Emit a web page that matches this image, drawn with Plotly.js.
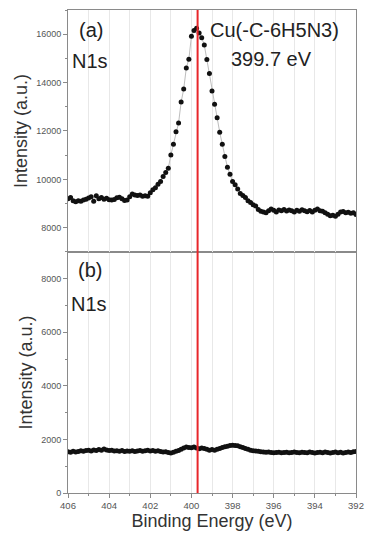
<!DOCTYPE html>
<html>
<head>
<meta charset="utf-8">
<script src="https://cdn.plot.ly/plotly-3.0.1.min.js"></script>
<style>html,body{margin:0;padding:0;background:#fff;}#chart{width:366px;height:534px;}</style>
</head>
<body>
<div id="chart"></div>
<script>
// Binding energy (eV), shared by both spectra
var bindingEnergy = [
406.000,405.875,405.750,405.625,405.500,405.375,405.250,405.125,405.000,404.875,
404.750,404.625,404.500,404.375,404.250,404.125,404.000,403.875,403.750,403.625,
403.500,403.375,403.250,403.125,403.000,402.875,402.750,402.625,402.500,402.375,
402.250,402.125,402.000,401.875,401.750,401.625,401.500,401.375,401.250,401.125,
401.000,400.875,400.750,400.625,400.500,400.375,400.250,400.125,400.000,399.875,
399.750,399.625,399.500,399.375,399.250,399.125,399.000,398.875,398.750,398.625,
398.500,398.375,398.250,398.125,398.000,397.875,397.750,397.625,397.500,397.375,
397.250,397.125,397.000,396.875,396.750,396.625,396.500,396.375,396.250,396.125,
396.000,395.875,395.750,395.625,395.500,395.375,395.250,395.125,395.000,394.875,
394.750,394.625,394.500,394.375,394.250,394.125,394.000,393.875,393.750,393.625,
393.500,393.375,393.250,393.125,393.000,392.875,392.750,392.625,392.500,392.375,
392.250,392.125,392.000
];
// (a) N1s intensity
var intensityA = [
9200,9250,9120,9080,9120,9100,9150,9180,9230,9280,
9100,9320,9200,9250,9180,9220,9160,9150,9170,9240,
9260,9200,9130,9150,9280,9400,9360,9330,9360,9300,
9320,9300,9450,9570,9650,9800,9910,10120,10280,10460,
11010,11450,11970,12330,13196,13732,14598,14969,15918,16150,
16250,16050,15850,15550,14950,14380,13650,13100,12550,11950,
11450,10950,10500,10210,9910,9780,9600,9420,9330,9250,
9120,9050,8950,8900,8760,8680,8650,8620,8700,8780,
8720,8650,8740,8700,8760,8690,8730,8700,8650,8720,
8680,8750,8700,8660,8710,8650,8720,8780,8700,8680,
8620,8560,8500,8520,8480,8560,8650,8670,8620,8640,
8600,8620,8550
];
// (b) N1s intensity
var intensityB = [
1540,1520,1560,1530,1550,1580,1560,1590,1600,1570,
1610,1590,1620,1600,1640,1610,1590,1600,1570,1580,
1560,1590,1550,1570,1560,1580,1550,1570,1590,1560,
1580,1600,1570,1590,1560,1580,1550,1530,1540,1510,
1490,1520,1560,1590,1630,1680,1720,1700,1690,1720,
1680,1650,1680,1660,1630,1600,1620,1600,1630,1660,
1700,1730,1750,1770,1780,1770,1760,1730,1700,1660,
1630,1600,1580,1570,1560,1540,1530,1520,1530,1510,
1500,1510,1520,1500,1510,1520,1500,1510,1530,1510,
1500,1520,1510,1500,1530,1510,1490,1510,1520,1500,
1530,1510,1490,1510,1530,1500,1520,1490,1510,1530,
1510,1540,1550
];
var peakPosition = 399.7;
var xTicks = [406, 404, 402, 400, 398, 396, 394, 392];
var yTicksA = [8000, 10000, 12000, 14000, 16000];
var yTicksB = [0, 2000, 4000, 6000, 8000];

var FONT = '"Liberation Sans", Arial, sans-serif';
var tickFont = {family: FONT, size: 9, color: '#555'};
var frame = '#8a8a8a';

function xAxis(extra) {
  var a = {
    range: [406, 392], tickvals: xTicks, ticktext: xTicks.map(String),
    ticks: 'outside', ticklen: 4, tickcolor: frame, tickfont: {family: FONT, size: 9.5, color: '#555'},
    showline: true, linecolor: frame, linewidth: 1, mirror: true,
    showgrid: true, gridcolor: '#e8e8e8', gridwidth: 1, zeroline: false,
    minor: {dtick: 1, tick0: 392, ticks: 'outside', ticklen: 2, tickcolor: frame, showgrid: true, gridcolor: '#e8e8e8'}
  };
  for (var k in extra) a[k] = extra[k];
  return a;
}
function yAxis(range, tv, extra) {
  var a = {
    range: range, tickvals: tv, ticktext: tv.map(String),
    ticks: 'outside', ticklen: 4, tickcolor: frame, tickfont: tickFont,
    showline: true, linecolor: frame, linewidth: 1, mirror: true,
    showgrid: false, zeroline: false,
    minor: {dtick: 1000, ticks: 'outside', ticklen: 2, tickcolor: frame, showgrid: false},
    title: {text: 'Intensity (a.u.)', font: {family: FONT, size: 18, color: '#333'}, standoff: 3}
  };
  for (var k in extra) a[k] = extra[k];
  return a;
}

var traces = [
  {x: bindingEnergy, y: intensityA, xaxis: 'x2', yaxis: 'y2', type: 'scatter', mode: 'lines+markers',
   line: {color: '#bdbdbd', width: 1}, marker: {color: '#111', size: 5}, hoverinfo: 'skip'},
  {x: bindingEnergy, y: intensityB, xaxis: 'x', yaxis: 'y', type: 'scatter', mode: 'lines+markers',
   line: {color: '#111', width: 3}, marker: {color: '#111', size: 5}, hoverinfo: 'skip'}
];

var annFont = {family: FONT, size: 20, color: '#222'};
var layout = {
  width: 366, height: 534,
  margin: {l: 68, r: 10, t: 10, b: 41},
  paper_bgcolor: '#fff', plot_bgcolor: '#fff',
  showlegend: false,
  xaxis: xAxis({anchor: 'y', domain: [0, 1],
    title: {text: 'Binding Energy (eV)', font: {family: FONT, size: 18, color: '#333'}, standoff: 1}}),
  xaxis2: xAxis({anchor: 'y2', matches: 'x', showticklabels: false, ticks: '', minor: {dtick: 1, tick0: 392, ticks: '', showgrid: true, gridcolor: '#e8e8e8'}}),
  yaxis: yAxis([0, 9000], yTicksB, {domain: [0, 0.499], anchor: 'x'}),
  yaxis2: yAxis([7000, 17000], yTicksA, {domain: [0.499, 1], anchor: 'x2'}),
  shapes: [
    {type: 'line', xref: 'x', yref: 'paper', x0: peakPosition, x1: peakPosition, y0: 0, y1: 1,
     line: {color: '#e8262a', width: 2}}
  ],
  annotations: [
    {text: '(a)', xref: 'paper', yref: 'paper', x: 0.03, y: 0.9586, xanchor: 'left', yanchor: 'middle', showarrow: false, font: annFont},
    {text: 'N1s', xref: 'paper', yref: 'paper', x: 0.008, y: 0.8944, xanchor: 'left', yanchor: 'middle', showarrow: false, font: annFont},
    {text: 'Cu(-C-6H5N3)', xref: 'paper', yref: 'paper', x: 0.717, y: 0.9586, xanchor: 'center', yanchor: 'middle', showarrow: false, font: annFont},
    {text: '399.7 eV', xref: 'paper', yref: 'paper', x: 0.705, y: 0.8986, xanchor: 'center', yanchor: 'middle', showarrow: false, font: annFont},
    {text: '(b)', xref: 'paper', yref: 'paper', x: 0.027, y: 0.4617, xanchor: 'left', yanchor: 'middle', showarrow: false, font: annFont},
    {text: 'N1s', xref: 'paper', yref: 'paper', x: 0.002, y: 0.3913, xanchor: 'left', yanchor: 'middle', showarrow: false, font: annFont}
  ]
};

Plotly.newPlot('chart', traces, layout, {staticPlot: true, displayModeBar: false});
</script>
</body>
</html>
